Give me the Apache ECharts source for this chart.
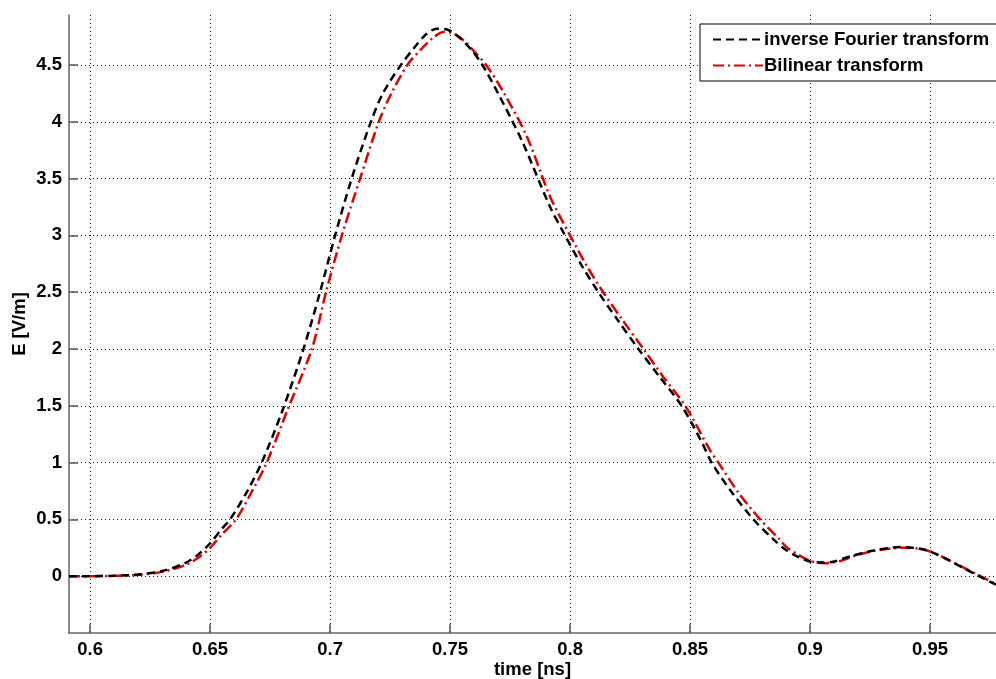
<!DOCTYPE html>
<html>
<head>
<meta charset="utf-8">
<script src="https://cdn.jsdelivr.net/npm/echarts@6/dist/echarts.min.js"></script>
<style>
html, body { margin: 0; padding: 0; background: #fff; }
#main { width: 996px; height: 679px; }
</style>
</head>
<body>
<div id="main"></div>
<script>
var xTicks = [0.6, 0.65, 0.7, 0.75, 0.8, 0.85, 0.9, 0.95];
var yTicks = [0, 0.5, 1, 1.5, 2, 2.5, 3, 3.5, 4, 4.5];

// inverse Fourier transform (black dashed)
var timeIFT = [0.5912, 0.600, 0.610, 0.620, 0.630, 0.640, 0.645, 0.650, 0.655, 0.6583, 0.665, 0.6715, 0.680,
    0.6889, 0.6958, 0.7021, 0.709, 0.7170, 0.7220, 0.7295, 0.735, 0.740, 0.7445, 0.749, 0.754, 0.759,
    0.7635, 0.770, 0.780, 0.7917, 0.7979, 0.805, 0.8118, 0.820, 0.8285, 0.8375, 0.8465, 0.8549, 0.859, 0.867,
    0.8764, 0.885, 0.890, 0.895, 0.900, 0.9054, 0.910, 0.9167, 0.925, 0.9375, 0.945, 0.950, 0.957, 0.9639, 0.9775];
var eIFT = [0, 0, 0.004, 0.015, 0.045, 0.12, 0.19, 0.29, 0.42, 0.5, 0.73, 1.0, 1.45,
    2.0, 2.5, 3.0, 3.5, 4.0, 4.25, 4.5, 4.65, 4.77, 4.82, 4.81, 4.74, 4.63,
    4.5, 4.25, 3.83, 3.25, 3.0, 2.73, 2.5, 2.25, 2.0, 1.75, 1.5, 1.18, 1.0, 0.75,
    0.5, 0.32, 0.23, 0.17, 0.13, 0.12, 0.13, 0.174, 0.22, 0.256, 0.245, 0.218, 0.15, 0.072, -0.075];

// bilinear transform (red dash-dot)
var timeBil = [0.5912, 0.600, 0.610, 0.620, 0.630, 0.640, 0.6458, 0.650, 0.655, 0.6608, 0.667, 0.6736, 0.682,
    0.6924, 0.6983, 0.7049, 0.7125, 0.7203, 0.7253, 0.7322, 0.738, 0.743, 0.7472, 0.751, 0.756, 0.760,
    0.765, 0.772, 0.782, 0.7917, 0.800, 0.807, 0.8138, 0.822, 0.8306, 0.839, 0.848, 0.8583, 0.8618, 0.870,
    0.8792, 0.887, 0.890, 0.895, 0.900, 0.906, 0.912, 0.918, 0.926, 0.9385, 0.946, 0.951, 0.958, 0.965, 0.9775];
var eBil = [0, 0, 0.003, 0.012, 0.038, 0.10, 0.174, 0.25, 0.37, 0.5, 0.73, 1.0, 1.45,
    2.0, 2.5, 3.0, 3.5, 4.0, 4.24, 4.5, 4.64, 4.74, 4.79, 4.78, 4.71, 4.62,
    4.5, 4.27, 3.87, 3.34, 3.0, 2.73, 2.5, 2.25, 2.0, 1.75, 1.5, 1.11, 1.0, 0.74,
    0.5, 0.33, 0.26, 0.19, 0.135, 0.115, 0.13, 0.175, 0.22, 0.25, 0.24, 0.21, 0.14, 0.065, -0.07];

function pairs(xs, ys) {
    return xs.map(function (x, i) { return [x, ys[i]]; });
}

var font = 'Liberation Sans, Arial, sans-serif';
var chart = echarts.init(document.getElementById('main'));

var labelStyle = { fontSize: 18.5, fontWeight: 'bold', color: '#000' };

var option = {
    animation: false,
    backgroundColor: '#fff',
    textStyle: { fontFamily: font },
    grid: { left: 69, right: 0, top: 15, bottom: 46, containLabel: false, outerBoundsMode: 'none' },
    legend: {
        left: 700,
        top: 24,
        orient: 'vertical',
        backgroundColor: '#fff',
        borderColor: '#000',
        borderWidth: 1,
        borderRadius: 0,
        padding: [6, 12, 6, 12],
        itemGap: 7,
        itemWidth: 50,
        itemHeight: 14,
        itemStyle: { opacity: 0 },
        textStyle: { fontSize: 18.5, fontWeight: 'bold', color: '#000', fontFamily: font, padding: [0, 0, 0, -4] },
        data: ['inverse Fourier transform', 'Bilinear transform']
    },
    xAxis: {
        type: 'value',
        min: 0.5912,
        max: 0.9775,
        name: 'time [ns]',
        nameLocation: 'middle',
        nameMoveOverlap: false,
        nameGap: 27,
        nameTextStyle: labelStyle,
        axisLine: { show: true, onZero: false, lineStyle: { color: '#666', width: 1.5 } },
        axisTick: { show: true, inside: true, length: 9, customValues: xTicks, lineStyle: { color: '#555', width: 1.5 } },
        axisLabel: {
            customValues: xTicks, margin: 7, fontSize: 18.5, fontWeight: 'bold', color: '#000',
            formatter: function (v) { return String(+v.toFixed(2)); }
        },
        splitLine: { show: true, lineStyle: { color: '#222', width: 1, type: [1, 3] } }
    },
    yAxis: {
        type: 'value',
        min: -0.5,
        max: 4.94,
        name: 'E [V/m]',
        nameLocation: 'middle',
        nameMoveOverlap: false,
        nameGap: 40,
        nameTextStyle: labelStyle,
        axisLine: { show: true, onZero: false, lineStyle: { color: '#666', width: 1.5 } },
        axisTick: { show: true, inside: true, length: 9, customValues: yTicks, lineStyle: { color: '#555', width: 1.5 } },
        axisLabel: {
            customValues: yTicks, margin: 7, fontSize: 18.5, fontWeight: 'bold', color: '#000',
            formatter: function (v) { return String(+v.toFixed(2)); }
        },
        splitLine: { show: true, lineStyle: { color: '#222', width: 1, type: [1, 3] } }
    },
    series: [
        {
            name: 'inverse Fourier transform',
            type: 'line',
            smooth: 0.3,
            showSymbol: false,
            symbol: 'none',
            z: 3,
            data: pairs(timeIFT, eIFT),
            itemStyle: { color: '#000' },
            lineStyle: { color: '#000', width: 2.5, type: [8, 5] }
        },
        {
            name: 'Bilinear transform',
            type: 'line',
            smooth: 0.3,
            showSymbol: false,
            symbol: 'none',
            z: 2,
            data: pairs(timeBil, eBil),
            itemStyle: { color: '#e00000' },
            lineStyle: { color: '#e00000', width: 2.5, type: [11, 4, 2, 4] }
        }
    ]
};

chart.setOption(option);
</script>
</body>
</html>
